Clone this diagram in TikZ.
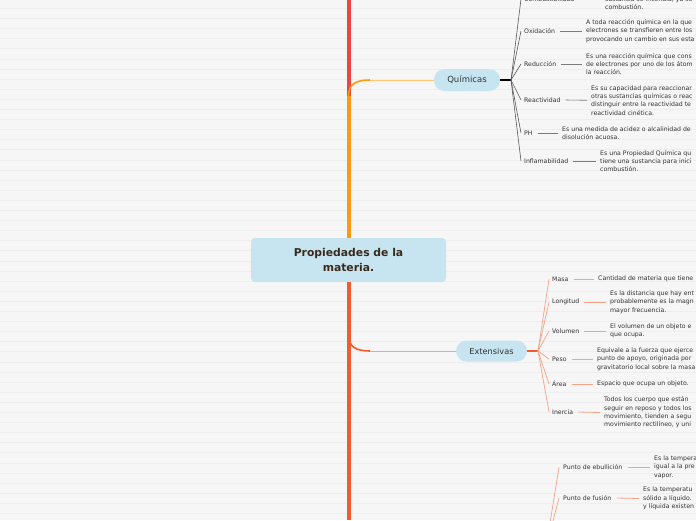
\documentclass[tikz,border=0pt]{standalone}
\usepackage{fontspec}
\setmainfont{DejaVu Sans}
\definecolor{bgc}{HTML}{F6F6F6}
\definecolor{bglinec}{HTML}{EEEEEE}
\definecolor{nodeblue}{HTML}{C6E5F0}
\definecolor{trunkred}{HTML}{F0443F}
\definecolor{trunkorange}{HTML}{FF9A0E}
\definecolor{trunkext}{HTML}{F25C2A}
\definecolor{qline}{HTML}{FFC772}
\definecolor{eline}{HTML}{F7A286}
\definecolor{fanc}{HTML}{5A5A5A}
\definecolor{txtc}{HTML}{333333}
\definecolor{titlec}{HTML}{3A2A1E}
\begin{document}
\begin{tikzpicture}[x=1pt,y=-1pt,
  lbl/.style={font=\fontsize{6.2}{8.4}\selectfont, text=txtc, inner sep=0pt, anchor=west},
  desc/.style={font=\fontsize{6.2}{8.4}\selectfont, text=txtc, inner sep=0pt, anchor=west, align=left},
  qfan/.style={draw=fanc, line width=0.6pt},
  qconn/.style={draw=fanc!80, line width=0.6pt},
  efan/.style={draw=eline, line width=0.7pt},
  econn/.style={draw=eline, line width=0.8pt},
  pill/.style={fill=nodeblue, rounded corners=10.5pt, inner sep=0pt, text=txtc}]
\useasboundingbox (0,0) rectangle (696,520);
\clip (0,0) rectangle (696,520);
\fill[bgc] (0,0) rectangle (696,520);
\foreach \y in {8.5,18.6,...,520} \draw[bglinec, line width=0.9pt] (0,\y) -- (696,\y);

% root
\node[fill=nodeblue, rounded corners=4pt, minimum width=195pt, minimum height=44pt, inner sep=0pt,
      align=center, font=\bfseries\fontsize{10.8}{15}\selectfont, text=titlec] (root) at (348.5,260)
      {Propiedades de la\\materia.};

\coordinate (top) at (348.5,0);
\coordinate (qb) at (348.5,96);
\coordinate (qc) at (370,80);
\coordinate (eb) at (348.5,334);
\coordinate (ec) at (370,351);
\coordinate (bot) at (348.5,520);

\draw[trunkred, line width=4pt] (top) -- (qb);
\draw[trunkorange, line width=4pt] (root.north) -- (qb);
\draw[trunkext, line width=4pt] (root.south) -- (bot);

% Quimicas
\node[pill, minimum width=66pt, minimum height=22pt, font=\fontsize{8.5}{10}\selectfont] (qn) at (467,80) {Químicas};
\draw[trunkorange, line width=1.6pt] (qb) .. controls (348.5,84) and (356,80) .. (qc);
\draw[qline, line width=1pt] (qc) -- (qn.west);
\coordinate (qj) at (511,80);
\draw[black, line width=1.3pt] (qn.east) -- (qj);

% Extensivas
\node[pill, minimum width=71pt, minimum height=21pt, font=\fontsize{8.2}{10}\selectfont] (en) at (491.5,351) {Extensivas};
\draw[trunkext, line width=1.6pt] (eb) .. controls (348.5,347) and (356,351) .. (ec);
\draw[eline, line width=1pt] (ec) -- (en.west);
\coordinate (ej) at (538,351);
\draw[trunkext, line width=1.3pt] (en.east) -- (ej);

% bottom group junction
\coordinate (bj) at (546,548);

% Quimicas children
\node[lbl] (comb) at (524,-1) {Combustibilidad};
\node[desc, anchor=north west] (combd) at (605,-3.6) {sustancia se incendia, ya se\\combustión.};
\coordinate (combe) at (600,-1);
\node[lbl] (oxi) at (524,31) {Oxidación};
\node[desc] (oxid) at (586,31) {A toda reacción química en la que\\electrones se transfieren entre los\\provocando un cambio en sus esta};
\node[lbl] (red) at (524,64) {Reducción};
\node[desc] (redd) at (586,64) {Es una reacción química que cons\\de electrones por uno de los átom\\la reacción.};
\node[lbl] (rea) at (524,100) {Reactividad};
\node[desc] (read) at (591,100.3) {Es su capacidad para reaccionar\\otras sustancias químicas o reac\\distinguir entre la reactividad te\\reactividad cinética.};
\node[lbl] (ph) at (524,133) {PH};
\node[desc] (phd) at (562,133) {Es una medida de acidez o alcalinidad de\\disolución acuosa.};
\node[lbl] (inf) at (524,161) {Inflamabilidad};
\node[desc] (infd) at (600,161) {Es una Propiedad Química qu\\tiene una sustancia para inici\\combustión.};

\foreach \n in {comb,oxi,red,rea,ph,inf} \draw[qfan] (qj) -- ([xshift=-3pt]\n.west);
\draw[qconn] ([xshift=5pt]comb.east) -- (combe);
\foreach \n in {oxi,red,rea,ph,inf} \draw[qconn] ([xshift=5pt]\n.east) -- ([xshift=-4pt]\n d.west);

% Extensivas children
\node[lbl] (mas) at (552,279) {Masa};
\node[desc] (masd) at (598,279) {Cantidad de materia que tiene};
\node[lbl] (lon) at (552,302) {Longitud};
\node[desc] (lond) at (610,302) {Es la distancia que hay ent\\probablemente es la magn\\mayor frecuencia.};
\node[lbl] (vol) at (552,331) {Volumen};
\node[desc] (vold) at (610,331) {El volumen de un objeto e\\que ocupa.};
\node[lbl] (pes) at (552,359) {Peso};
\node[desc] (pesd) at (597,359) {Equivale a la fuerza que ejerce\\punto de apoyo, originada por\\gravitatorio local sobre la masa};
\node[lbl] (are) at (552,384) {Área};
\node[desc] (ared) at (597,384) {Espacio que ocupa un objeto.};
\node[lbl] (ine) at (552,412) {Inercia};
\node[desc] (ined) at (604,412.5) {Todos los cuerpo que están\\seguir en reposo y todos los\\movimiento, tienden a segu\\movimiento rectilíneo, y uni};

\foreach \n in {mas,lon,vol,pes,are,ine} {
  \draw[efan] (ej) -- ([xshift=-3pt]\n.west);
  \draw[econn] ([xshift=5pt]\n.east) -- ([xshift=-4pt]\n d.west);
}

% bottom children
\node[lbl] (ebu) at (563,467) {Punto de ebullición};
\node[desc] (ebud) at (654,467) {Es la tempera\\igual a la pre\\vapor.};
\node[lbl] (fus) at (563,498) {Punto de fusión};
\node[desc] (fusd) at (643,498.5) {Es la temperatu\\sólido a líquido.\\y líquida existen};
\foreach \n in {ebu,fus} {
  \draw[efan] (bj) -- ([xshift=-4pt]\n.west);
  \draw[econn] ([xshift=5pt]\n.east) -- ([xshift=-4pt]\n d.west);
}
\end{tikzpicture}
\end{document}
